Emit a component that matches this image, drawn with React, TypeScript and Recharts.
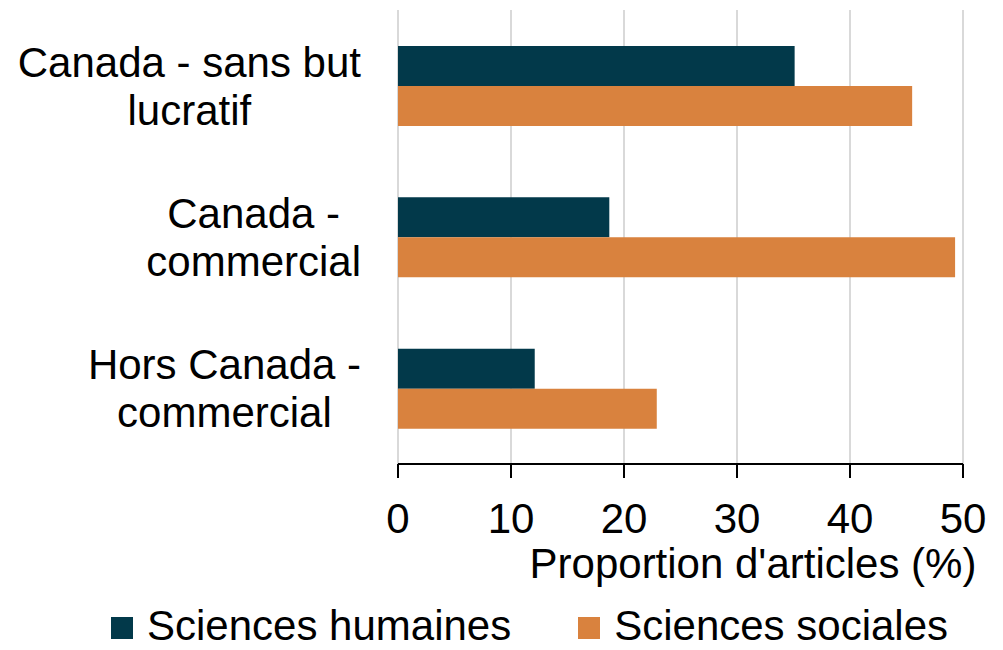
import { BarChart, Bar, XAxis, YAxis, CartesianGrid, Legend, Label } from "recharts";

const categories = ["Canada - sans but lucratif", "Canada - commercial", "Hors Canada - commercial"];
const humaines = [35.1, 18.7, 12.1];
const sociales = [45.5, 49.3, 22.9];
const xTicks = [0, 10, 20, 30, 40, 50];

const seriesNames = ["Sciences humaines", "Sciences sociales"];
const DARK = "#02394a";
const ORANGE = "#d9823e";
const FONT = "'Liberation Sans', Arial, sans-serif";

const data = categories.map((name, i) => ({
  name,
  humaines: humaines[i],
  sociales: sociales[i],
}));

let ctx: CanvasRenderingContext2D | null = null;
function measure(text: string) {
  if (!ctx) {
    ctx = document.createElement("canvas").getContext("2d");
  }
  if (!ctx) return text.length * 21;
  ctx.font = `42px ${FONT}`;
  return ctx.measureText(text).width;
}

// wrap a label into lines no wider than maxW
function wrap(text: string, maxW: number) {
  const words = text.split(" ");
  const lines: string[] = [];
  let cur = "";
  words.forEach((w) => {
    const next = cur ? cur + " " + w : w;
    if (cur && measure(next) > maxW) {
      lines.push(cur);
      cur = w;
    } else {
      cur = next;
    }
  });
  if (cur) lines.push(cur);
  return lines;
}

function CategoryTick({ y, payload }: any) {
  const lines = wrap(payload.value, 355);
  const maxW = Math.max(...lines.map(measure));
  const cx = 361 - maxW / 2;
  const lh = 48;
  const startY = y - ((lines.length - 1) * lh) / 2;
  return (
    <text x={cx} y={startY} textAnchor="middle" fontSize={42} fontFamily={FONT} fill="#000">
      {lines.map((l, i) => (
        <tspan key={i} x={cx} y={startY + i * lh} dy="0.36em">
          {l}
        </tspan>
      ))}
    </text>
  );
}

function LegendContent() {
  const colors = [DARK, ORANGE];
  return (
    <div style={{ position: "relative", height: 60, width: 1003, fontFamily: FONT, fontSize: 42 }}>
      <div style={{ position: "absolute", left: 111, top: 18, display: "flex", alignItems: "center", gap: 67 }}>
        {seriesNames.map((n, i) => (
          <div key={n} style={{ display: "flex", alignItems: "center", gap: 14 }}>
            <div style={{ width: 22, height: 22, background: colors[i], marginTop: 4 }} />
            <span style={{ lineHeight: "36px", color: "#000", whiteSpace: "nowrap" }}>{n}</span>
          </div>
        ))}
      </div>
    </div>
  );
}

export default function App() {
  return (
    <div style={{ position: "absolute", left: 0, top: 0, width: 1003, height: 650, background: "#fff" }}>
      <BarChart
        width={1003}
        height={650}
        data={data}
        layout="vertical"
        margin={{ top: 10, right: 40, left: 0, bottom: 0 }}
        barGap={0}
        barSize={40}
      >
        <CartesianGrid horizontal={false} stroke="#d9d9d9" strokeWidth={2} />
        <XAxis
          type="number"
          domain={[0, 50]}
          ticks={xTicks}
          interval={0}
          height={126}
          tick={{ fontSize: 42, fill: "#000", fontFamily: FONT }}
          tickSize={14}
          tickMargin={25}
          axisLine={{ stroke: "#000", strokeWidth: 2 }}
          tickLine={{ stroke: "#000", strokeWidth: 2 }}
        >
          <Label
            content={() => (
              <text x={753} y={578} textAnchor="middle" fontSize={42} fontFamily={FONT} fill="#000">
                Proportion d'articles (%)
              </text>
            )}
          />
        </XAxis>
        <YAxis
          type="category"
          dataKey="name"
          width={398}
          axisLine={false}
          tickLine={false}
          tick={<CategoryTick />}
          interval={0}
        />
        <Legend verticalAlign="bottom" height={60} content={<LegendContent />} />
        <Bar dataKey="humaines" name={seriesNames[0]} fill={DARK} isAnimationActive={false} />
        <Bar dataKey="sociales" name={seriesNames[1]} fill={ORANGE} isAnimationActive={false} />
      </BarChart>
    </div>
  );
}
